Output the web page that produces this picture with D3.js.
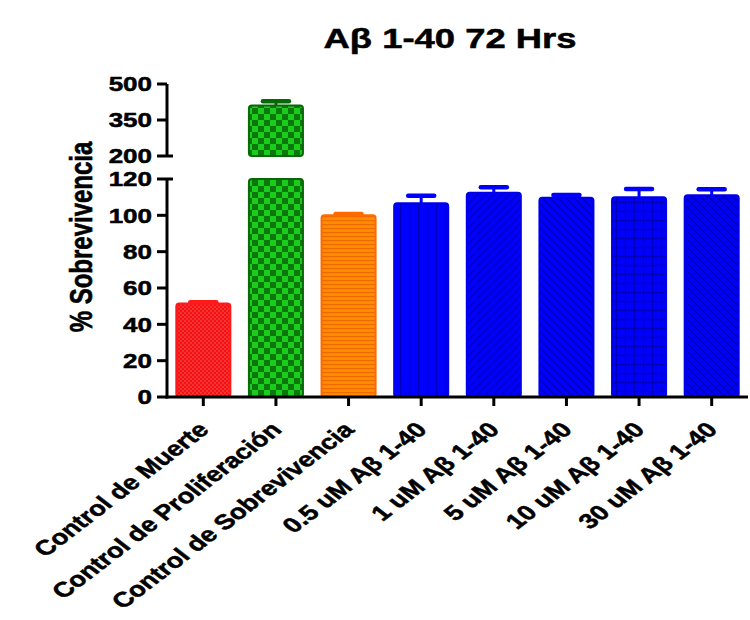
<!DOCTYPE html>
<html>
<head>
<meta charset="utf-8">
<script src="https://cdn.jsdelivr.net/npm/d3@7"></script>
<style>
  html, body { margin: 0; padding: 0; background: #ffffff; }
  svg { display: block; }
  text { font-family: "Liberation Sans", Arial, sans-serif; font-weight: bold; fill: #000; stroke: #000; stroke-width: 0.5px; }
</style>
</head>
<body>
<svg id="chart" width="750" height="620"></svg>
<script>
// Survival (%) after 72 h exposure to Aβ 1-40
const categories = [
  "Control de Muerte",
  "Control de Proliferación",
  "Control de Sobrevivencia",
  "0.5 uM Aβ 1-40",
  "1 uM Aβ 1-40",
  "5 uM Aβ 1-40",
  "10 uM Aβ 1-40",
  "30 uM Aβ 1-40"
];
const means = [51.5, 410, 100, 106.6, 112.4, 109.7, 109.9, 111.0];
const sems  = [0.7, 18, 0.8, 4.2, 3.0, 1.5, 4.6, 3.3];
const lowerTicks = [0, 20, 40, 60, 80, 100, 120];
const upperTicks = [200, 350, 500];
const titleText = "Aβ 1-40 72 Hrs";
const yLabel = "% Sobrevivencia";

// Text is drawn horizontally widened
const sx = 1.3;

const svg = d3.select("#chart");
const defs = svg.append("defs");

// Fill patterns, one per bar
function pat(id, w, h, bg, draw) {
  const p = defs.append("pattern").attr("id", id)
    .attr("patternUnits", "userSpaceOnUse").attr("width", w).attr("height", h);
  p.append("rect").attr("width", w).attr("height", h).attr("fill", bg);
  draw(p);
}
pat("pRed", 4, 4, "#ff0d0d", p => {
  p.append("rect").attr("x", 0).attr("y", 0).attr("width", 2).attr("height", 2).attr("fill", "#e8383a");
  p.append("rect").attr("x", 2).attr("y", 2).attr("width", 2).attr("height", 2).attr("fill", "#e8383a");
});
pat("pGreen", 12, 12, "#1ccc1c", p => {
  p.append("rect").attr("x", 0).attr("y", 0).attr("width", 6).attr("height", 6).attr("fill", "#0a780a");
  p.append("rect").attr("x", 6).attr("y", 6).attr("width", 6).attr("height", 6).attr("fill", "#0a780a");
});
pat("pOrange", 4, 4, "#ff8c00", p => {
  p.append("rect").attr("x", 0).attr("y", 0).attr("width", 4).attr("height", 1.2).attr("fill", "#ec6a00");
});
pat("pBlue1", 9, 9, "#0000ff", p => {
  p.append("line").attr("x1", 4.5).attr("x2", 4.5).attr("y1", 0).attr("y2", 9)
    .attr("stroke", "#0000b4").attr("stroke-width", 1.3);
});
pat("pBlue2", 8, 8, "#0000ff", p => {
  p.append("path").attr("d", "M-2,2 L2,-2 M0,8 L8,0 M6,10 L10,6")
    .attr("stroke", "#0000b4").attr("stroke-width", 1.3);
});
pat("pBlue3", 8, 8, "#0000ff", p => {
  p.append("path").attr("d", "M-2,6 L2,10 M0,0 L8,8 M6,-2 L10,2")
    .attr("stroke", "#0000b4").attr("stroke-width", 1.3);
});
pat("pBlue4", 9, 9, "#0000ff", p => {
  p.append("path").attr("d", "M4.5,0 V9 M0,4.5 H9")
    .attr("stroke", "#0000b4").attr("stroke-width", 1.3);
});
pat("pBlue5", 8, 8, "#0000ff", p => {
  p.append("path").attr("d", "M-2,2 L2,-2 M0,8 L8,0 M6,10 L10,6 M-2,6 L2,10 M0,0 L8,8 M6,-2 L10,2")
    .attr("stroke", "#0000b4").attr("stroke-width", 1.1);
});

const fills   = ["url(#pRed)", "url(#pGreen)", "url(#pOrange)", "url(#pBlue1)", "url(#pBlue2)", "url(#pBlue3)", "url(#pBlue4)", "url(#pBlue5)"];
const strokes = ["#ff1a1a", "#086808", "#ff6a00", "#0000e6", "#0000e6", "#0000e6", "#0000e6", "#0000e6"];
const errCol  = ["#ff1a1a", "#086808", "#ff6a00", "#0000ff", "#0000ff", "#0000ff", "#0000ff", "#0000ff"];

// Layout
const axisX = 167, xRight = 748;
const yLow = d3.scaleLinear().domain([0, 120]).range([397, 179]);
const yUp  = d3.scaleLinear().domain([200, 500]).range([156, 84]);
const x = d3.scaleBand().domain(categories).range([axisX, xRight])
  .paddingInner(0.256).paddingOuter(0.128);

// Title
svg.append("text")
  .attr("transform", `translate(450,48) scale(${sx},1)`)
  .attr("text-anchor", "middle").attr("font-size", 28)
  .text(titleText);

// Y axis title
svg.append("text")
  .attr("transform", `translate(92,237) scale(${sx},1) rotate(-90)`)
  .attr("text-anchor", "middle").attr("font-size", 24)
  .text(yLabel);

// Bars (value mapped onto the broken axis)
const bars = svg.append("g");
categories.forEach((c, i) => {
  const v = means[i];
  const x0 = x(c), w = x.bandwidth();
  const g = bars.append("g");
  const seg = (yTop, yBot) => g.append("rect")
    .attr("x", x0).attr("y", yTop).attr("width", w).attr("height", yBot - yTop)
    .attr("rx", 3).attr("ry", 3)
    .attr("fill", fills[i]).attr("stroke", strokes[i]).attr("stroke-width", 2);
  let topY, errY;
  if (v <= 120) {
    topY = yLow(v); errY = yLow(v + sems[i]);
    seg(topY, yLow(0));
  } else {
    seg(yLow(120), yLow(0));
    topY = yUp(v); errY = yUp(v + sems[i]);
    seg(topY, yUp(200));
  }
  const cx = x0 + w / 2;
  g.append("line").attr("x1", cx).attr("x2", cx).attr("y1", topY).attr("y2", errY)
    .attr("stroke", errCol[i]).attr("stroke-width", 3);
  g.append("line").attr("x1", cx - 13).attr("x2", cx + 13).attr("y1", errY).attr("y2", errY)
    .attr("stroke", errCol[i]).attr("stroke-width", 4.5).attr("stroke-linecap", "round");
});

// Y axes (lower and upper segments)
function yAxis(scale, ticks, breakEnd) {
  const g = svg.append("g");
  const [r0, r1] = scale.range();
  g.append("line").attr("x1", axisX).attr("x2", axisX).attr("y1", r0 + (breakEnd === "bottom" ? 0 : 1.5)).attr("y2", r1)
    .attr("stroke", "#000").attr("stroke-width", 3);
  ticks.forEach(t => {
    const yy = scale(t);
    g.append("line").attr("x1", axisX - 10).attr("x2", axisX).attr("y1", yy).attr("y2", yy)
      .attr("stroke", "#000").attr("stroke-width", 3);
    g.append("text")
      .attr("transform", `translate(152,${yy}) scale(${sx},1)`)
      .attr("text-anchor", "end").attr("dy", "0.36em").attr("font-size", 20)
      .text(t);
  });
  return g;
}
const gUp = yAxis(yUp, upperTicks, "bottom");
const gLow = yAxis(yLow, lowerTicks, "top");
// Break caps
gUp.append("line").attr("x1", axisX).attr("x2", axisX + 6).attr("y1", yUp(200)).attr("y2", yUp(200))
  .attr("stroke", "#000").attr("stroke-width", 3);
gLow.append("line").attr("x1", axisX).attr("x2", axisX + 6).attr("y1", yLow(120)).attr("y2", yLow(120))
  .attr("stroke", "#000").attr("stroke-width", 3);

// X axis
const gx = svg.append("g");
gx.append("line").attr("x1", axisX - 1.5).attr("x2", xRight).attr("y1", yLow(0)).attr("y2", yLow(0))
  .attr("stroke", "#000").attr("stroke-width", 3);
categories.forEach(c => {
  const cx = x(c) + x.bandwidth() / 2;
  gx.append("line").attr("x1", cx).attr("x2", cx).attr("y1", yLow(0)).attr("y2", yLow(0) + 9)
    .attr("stroke", "#000").attr("stroke-width", 3);
  gx.append("text")
    .attr("transform", `translate(${cx + 7},431) scale(${sx},1) rotate(-45)`)
    .attr("text-anchor", "end").attr("font-size", 21)
    .text(c);
});
</script>
</body>
</html>
